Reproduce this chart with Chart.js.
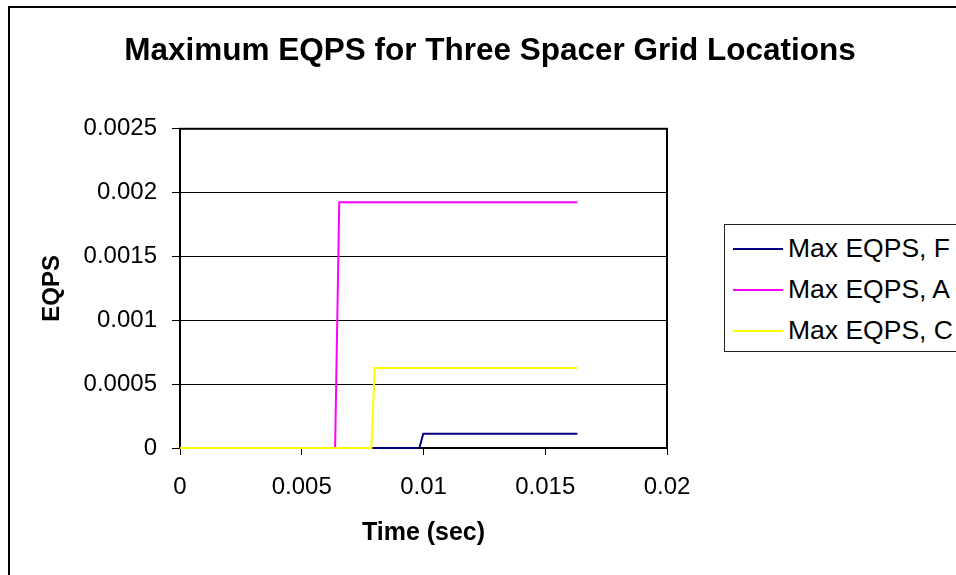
<!DOCTYPE html>
<html>
<head>
<meta charset="utf-8">
<script src="https://cdn.jsdelivr.net/npm/chart.js@4"></script>
<style>
  html, body { margin: 0; padding: 0; overflow: hidden; background: #fff; }
  #frame { position: absolute; left: 8px; top: 6px; width: 1000px; height: 620px; border-left: 2px solid #000; border-top: 2px solid #000; }
  #wrap { position: absolute; left: 0; top: 0; width: 980px; height: 600px; }
  #legend { position: absolute; left: 724px; top: 224px; width: 260px; height: 123px; padding-top: 3px;
            border: 1px solid #222; background: #fff; font-family: 'Liberation Sans', Arial, sans-serif; font-size: 26.5px; color: #000; }
  .row { height: 41px; display: flex; align-items: center; white-space: nowrap; }
  .swatch { width: 50px; height: 2px; margin-left: 8px; margin-right: 5px; }
</style>
</head>
<body>
<div id="frame"></div>
<div id="wrap"><canvas id="eqpsChart"></canvas></div>
<div id="legend"></div>
<script>
// series data
const seriesNames = ['Max EQPS, F', 'Max EQPS, A', 'Max EQPS, C'];
const seriesColors = ['#000080', '#FF00FF', '#FFFF00'];

const timeF = [0, 0.00983, 0.00999, 0.01632];
const eqpsF = [0, 0, 0.000112, 0.000112];
const timeA = [0, 0.00637, 0.00654, 0.01632];
const eqpsA = [0, 0, 0.001925, 0.001925];
const timeC = [0, 0.00786, 0.00800, 0.01632];
const eqpsC = [0, 0, 0.000627, 0.000627];

const xTickVals = [0, 0.005, 0.01, 0.015, 0.02];
const xTickLabels = ['0', '0.005', '0.01', '0.015', '0.02'];
const yTickVals = [0, 0.0005, 0.001, 0.0015, 0.002, 0.0025];
const yTickLabels = ['0', '0.0005', '0.001', '0.0015', '0.002', '0.0025'];

const FONT = "'Liberation Sans', Arial, sans-serif";
Chart.defaults.font.family = FONT;
Chart.defaults.color = '#000';

function pts(xs, ys) {
    return xs.map((x, i) => ({ x: x, y: ys[i] }));
}

// black box round the plot area
const plotFrame = {
    id: 'plotFrame',
    beforeDatasetsDraw(chart) {
        const a = chart.chartArea;
        const ctx = chart.ctx;
        ctx.save();
        ctx.strokeStyle = '#000';
        ctx.lineWidth = 2;
        ctx.strokeRect(a.left, a.top, a.right - a.left, a.bottom - a.top);
        ctx.restore();
    }
};

const allTimes = [timeF, timeA, timeC];
const allEqps = [eqpsF, eqpsA, eqpsC];

const eqpsChart = new Chart(document.getElementById('eqpsChart'), {
    type: 'line',
    data: {
        datasets: seriesNames.map((name, i) => ({
            label: name,
            data: pts(allTimes[i], allEqps[i]),
            borderColor: seriesColors[i],
            backgroundColor: seriesColors[i],
            borderWidth: 2,
            pointRadius: 0,
            tension: 0,
            fill: false,
            clip: false,
            order: 3 - i
        }))
    },
    options: {
        responsive: true,
        maintainAspectRatio: false,
        animation: false,
        layout: { padding: 0 },
        plugins: {
            legend: { display: false },
            tooltip: { enabled: false },
            title: {
                display: true,
                text: 'Maximum EQPS for Three Spacer Grid Locations',
                color: '#000',
                font: { size: 31.5, weight: 'bold' },
                padding: { top: 32, bottom: 59 }
            }
        },
        scales: {
            x: {
                type: 'linear',
                min: 0,
                max: 0.02,
                afterFit: s => { s.height = 152; },
                afterBuildTicks: s => { s.ticks = xTickVals.map(v => ({ value: v })); },
                ticks: {
                    font: { size: 24 },
                    padding: 18,
                    maxRotation: 0,
                    callback: (v, i) => xTickLabels[i]
                },
                grid: { drawOnChartArea: false, drawTicks: true, tickLength: 7, color: '#000', lineWidth: 1 },
                border: { display: false },
                title: {
                    display: true,
                    text: 'Time (sec)',
                    font: { size: 25, weight: 'bold' },
                    padding: { top: 0, bottom: 52 }
                }
            },
            y: {
                type: 'linear',
                min: 0,
                max: 0.0025,
                afterFit: s => { s.width = 180; },
                afterBuildTicks: s => { s.ticks = yTickVals.map(v => ({ value: v })); },
                ticks: {
                    font: { size: 24 },
                    padding: 15,
                    callback: (v, i) => yTickLabels[i]
                },
                grid: { color: '#000', lineWidth: 1, tickLength: 8 },
                border: { display: false },
                title: {
                    display: true,
                    text: 'EQPS',
                    font: { size: 24, weight: 'bold' },
                    padding: { top: 38, bottom: 0 }
                }
            },
            yRight: {
                type: 'linear',
                position: 'right',
                display: true,
                afterFit: s => { s.width = 313; },
                ticks: { display: false },
                grid: { display: false },
                border: { display: false }
            }
        }
    },
    plugins: [plotFrame]
});

// legend in the boxed style of the original
const legendEl = document.getElementById('legend');
seriesNames.forEach((name, i) => {
    const row = document.createElement('div');
    row.className = 'row';
    const sw = document.createElement('span');
    sw.className = 'swatch';
    sw.style.background = seriesColors[i];
    const txt = document.createElement('span');
    txt.textContent = name;
    row.appendChild(sw);
    row.appendChild(txt);
    legendEl.appendChild(row);
});
</script>
</body>
</html>
